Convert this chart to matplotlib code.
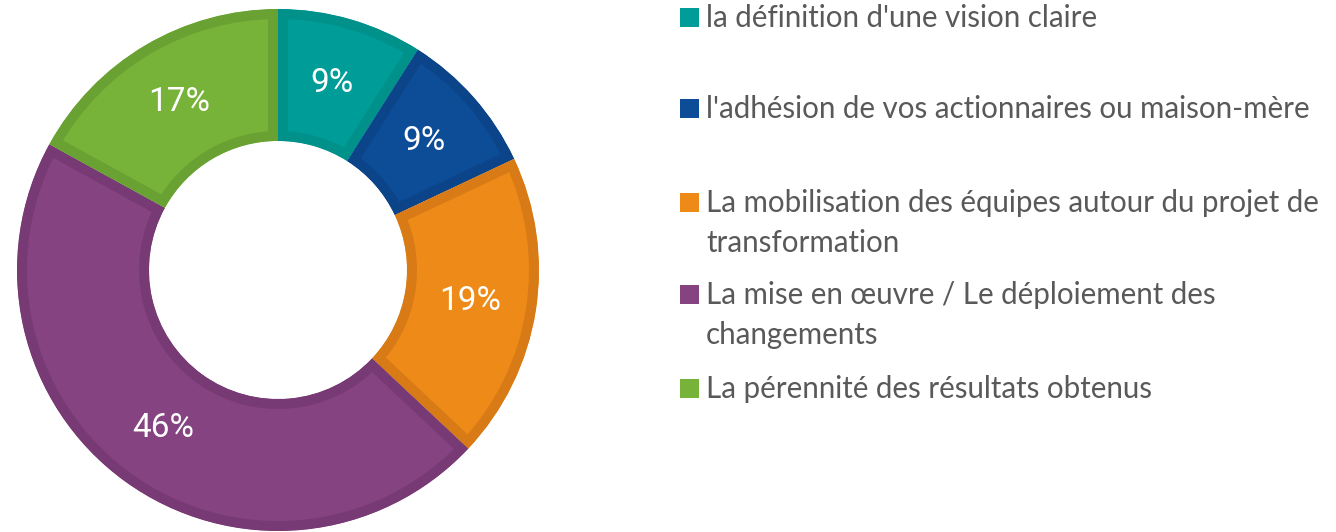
import matplotlib
matplotlib.use("Agg")
import matplotlib.pyplot as plt
from matplotlib.patches import Rectangle, Wedge

# data
labels = [
    "la définition d'une vision claire",
    "l'adhésion de vos actionnaires ou maison-mère",
    "La mobilisation des équipes autour du projet de\ntransformation",
    "La mise en œuvre / Le déploiement des\nchangements",
    "La pérennité des résultats obtenus",
]
shares = [9, 9, 19, 46, 17]
fill_colors = ["#009C98", "#0D4C96", "#EE8A17", "#854381", "#76B338"]
edge_colors = ["#00918B", "#0B4489", "#D87B16", "#783A74", "#69A233"]

W, H = 1336, 532
DPI = 100

fig = plt.figure(figsize=(W / DPI, H / DPI), dpi=DPI)
ax = fig.add_axes([0, 0, 1, 1])

# pixel geometry of the donut (y measured from the bottom)
cx, cy = 278, H - 270
r_out, r_in = 261, 129
border_px = 10

wedges, _, pct_texts = ax.pie(
    shares,
    colors=fill_colors,
    startangle=90,
    counterclock=False,
    center=(cx, cy),
    radius=r_out,
    autopct=lambda p: f"{p:.0f}%",
    pctdistance=(r_out + r_in) / 2 / r_out,
    wedgeprops=dict(width=r_out - r_in),
    textprops=dict(color="white", fontsize=24, family=["Roboto", "DejaVu Sans"]),
)
ax.set_xlim(0, W)
ax.set_ylim(0, H)
ax.set_aspect("auto")
ax.axis("off")

for w, ec in zip(wedges, edge_colors):
    # border drawn only on the inside of each wedge: clip the stroke to a copy of the wedge
    clip = Wedge(w.center, w.r, w.theta1, w.theta2, width=w.width,
                 transform=ax.transData)
    w.set_edgecolor(ec)
    w.set_linewidth(2 * border_px * 72 / DPI)
    w.set_clip_path(clip)
    w.set_clip_on(True)

# legend, drawn by hand
legend_font = ["Lato", "DejaVu Sans"]
probe = ax.text(0, 0, labels[0], fontsize=20, family=legend_font)
renderer = fig.canvas.get_renderer()
probe_w = probe.get_window_extent(renderer).width
probe.remove()
legend_size = 20 * 393 / probe_w

sq = 19
text_x = 706
sq_x = 680
line_gap = 40
baselines = [27, 118, 212, 304, 398]
for lab, col, base in zip(labels, fill_colors, baselines):
    ax.add_patch(Rectangle((sq_x, H - base), sq, sq, color=col, lw=0))
    for k, line in enumerate(lab.split("\n")):
        ax.text(text_x, H - base - k * line_gap, line, fontsize=legend_size,
                family=legend_font, color="#595959", va="baseline", ha="left")

fig.savefig("out.png", dpi=DPI)
